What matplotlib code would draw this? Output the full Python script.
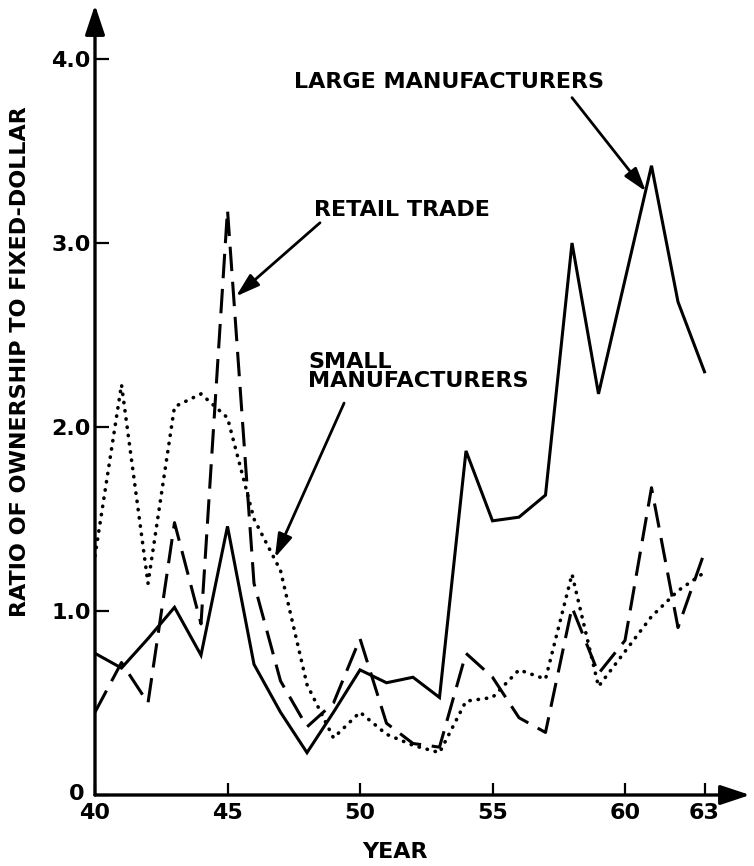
import matplotlib
matplotlib.use("Agg")
import matplotlib.pyplot as plt
import matplotlib.transforms as mtransforms
from matplotlib.font_manager import FontProperties

# values, one per year 1940-1963
years = list(range(40, 64))
large_mfg = [0.77, 0.69, 0.85, 1.02, 0.76, 1.46, 0.71, 0.45, 0.23, 0.45,
             0.68, 0.61, 0.64, 0.53, 1.87, 1.49, 1.51, 1.63, 3.00, 2.18,
             2.80, 3.42, 2.68, 2.30]
retail = [0.45, 0.72, 0.50, 1.48, 0.93, 3.18, 1.15, 0.62, 0.37, 0.50,
          0.85, 0.39, 0.28, 0.26, 0.77, 0.64, 0.42, 0.34, 1.02, 0.66,
          0.84, 1.67, 0.91, 1.32]
small_mfg = [1.30, 2.23, 1.15, 2.11, 2.18, 2.05, 1.50, 1.22, 0.60, 0.31,
             0.45, 0.33, 0.27, 0.23, 0.51, 0.53, 0.68, 0.63, 1.20, 0.59,
             0.78, 0.97, 1.11, 1.21]

x_ticks = [40, 45, 50, 55, 60, 63]
y_ticks = [0, 1, 2, 3, 4]
y_ticklabels = ["0", "1.0", "2.0", "3.0", "4.0"]

FONT = dict(family="DejaVu Sans", weight="bold", size=16)

fig = plt.figure(figsize=(7.54, 8.66), dpi=100)
ax = fig.add_axes([95 / 754, 1 - 795 / 866, (750 - 95) / 754, 790 / 866])
ax.set_xlim(40, 40 + 655 / 26.5)
ax.set_ylim(0, 790 / 184)

ax.plot(years, large_mfg, color="black", lw=2.2, solid_joinstyle="miter")
ax.plot(years, retail, color="black", lw=2.2, dashes=(8, 3.5))
ax.plot(years, small_mfg, color="black", lw=2.6, linestyle=(0, (0.1, 2.2)),
        dash_capstyle="round")

for s in ax.spines.values():
    s.set_visible(False)
axis_arrow = dict(arrowstyle="-|>,head_length=0.9,head_width=0.3", lw=2.4,
                  color="black", shrinkA=0, shrinkB=0, mutation_scale=20)
ax.annotate("", xy=(1, 0), xytext=(0, 0), xycoords="axes fraction",
            arrowprops=axis_arrow, annotation_clip=False)
ax.annotate("", xy=(0, 1), xytext=(0, 0), xycoords="axes fraction",
            arrowprops=axis_arrow, annotation_clip=False)

ax.set_xticks(x_ticks)
ax.set_yticks(y_ticks)
ax.set_yticklabels(y_ticklabels)
ax.tick_params(axis="x", direction="in", length=9, width=1.6, pad=6)
ax.tick_params(axis="y", direction="in", length=10, width=1.6, pad=3)
for lab in ax.get_xticklabels() + ax.get_yticklabels():
    lab.set_fontproperties(FontProperties(**FONT))

# the "0" sits left of the origin, clear of the "40" below it
zero = ax.get_yticklabels()[0]
zero.set_transform(zero.get_transform() +
                   mtransforms.ScaledTranslation(-6 / 100, 3 / 100, fig.dpi_scale_trans))

fig.text(395 / 754, 1 - 852 / 866, "YEAR", ha="center", va="center", **FONT)
fig.text(20 / 754, 1 - 362 / 866, "RATIO OF OWNERSHIP TO FIXED-DOLLAR",
         rotation=90, ha="center", va="center", **FONT)

# series labels with pointer arrows
pointer = dict(arrowstyle="-|>,head_length=0.8,head_width=0.25", lw=2.0,
               color="black", shrinkA=0, shrinkB=0, mutation_scale=18)
ax.text(53.36, 3.875, "LARGE MANUFACTURERS", ha="center", va="center", **FONT)
ax.annotate("", xy=(60.79, 3.28), xytext=(58.0, 3.79), arrowprops=pointer)
ax.text(51.58, 3.18, "RETAIL TRADE", ha="center", va="center", **FONT)
ax.annotate("", xy=(45.32, 2.71), xytext=(48.49, 3.11), arrowprops=pointer)
ax.text(48.04, 2.30, "SMALL\nMANUFACTURERS", ha="left", va="center",
        linespacing=0.95, **FONT)
ax.annotate("", xy=(46.79, 1.29), xytext=(49.40, 2.13), arrowprops=pointer)

fig.savefig("out.png", dpi=100)
